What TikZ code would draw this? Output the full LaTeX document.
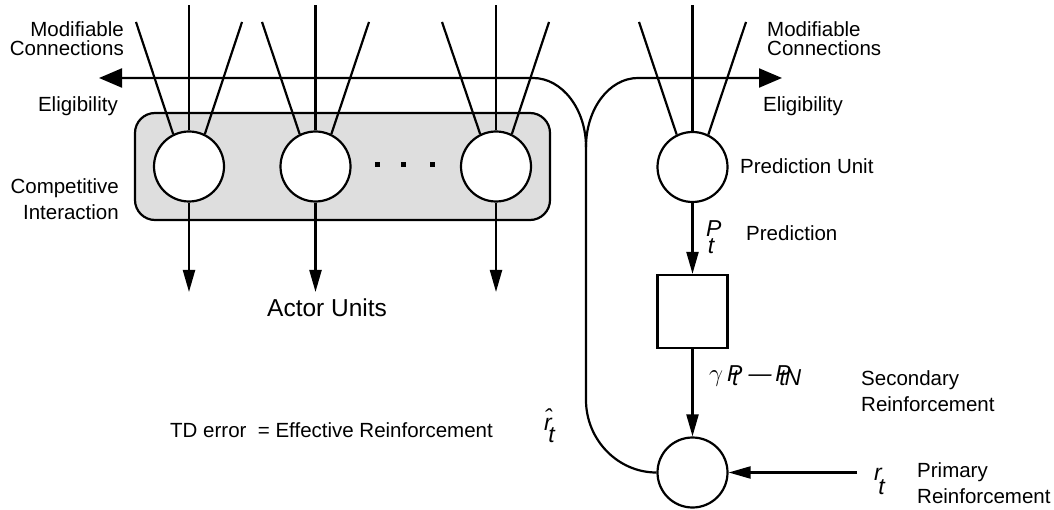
\documentclass[tikz,border=0pt]{standalone}
\usepackage{fontspec}
\setmainfont{Liberation Sans}
\usetikzlibrary{arrows.meta}
\tikzset{unit/.style={draw,circle,fill=white,line width=2.2pt,minimum size=70pt,inner sep=0pt},
         delay/.style={draw,fill=white,line width=2.2pt,minimum width=70pt,minimum height=73pt,inner sep=0pt},
         wire/.style={line width=2.2pt},
         sig/.style={wire,-{Triangle[length=22pt,width=12pt]}},
         elig/.style={wire,-{Triangle[length=23pt,width=19pt]}},
         lbl/.style={inner sep=0pt,font=\fontsize{20.5}{26}\selectfont},
         sym/.style={inner sep=0pt,font=\fontsize{23}{26}\selectfont\itshape},
        }

\begin{document}
\begin{tikzpicture}[x=1pt,y=-1pt]
        \useasboundingbox(0,0)rectangle(1054,510);
        \draw[wire,fill=black!13,rounded corners=20pt](135,113)rectangle(550,220);

        \node[unit](a1)at(189,166.5){};
        \node[unit](a2)at(315.5,166.5){};
        \node[unit](a3)at(496,166.5){};
        \node[unit](pu)at(692.5,167){};
        \node[delay](dbox)at(692.5,311.5){};
        \node[unit](td)at(692.5,472.5){};

        \coordinate(a1in)at(189,5);   \coordinate(a1l)at(136,22); \coordinate(a1r)at(242,22);
        \coordinate(a2in)at(315.5,5); \coordinate(a2l)at(262,22); \coordinate(a2r)at(369,22);
        \coordinate(a3in)at(496,5);   \coordinate(a3l)at(442,22); \coordinate(a3r)at(549,22);
        \coordinate(puin)at(692.5,5); \coordinate(pul)at(639,22); \coordinate(pur)at(746,22);
        \coordinate(a1out)at(189,292);
        \coordinate(a2out)at(315.5,292);
        \coordinate(a3out)at(496,292);
        \coordinate(split)at(586,147);
        \coordinate(ell)at(99,78);
        \coordinate(elr)at(782,78);
        \coordinate(rin)at(857,472.5);

        % modifiable connections
        \draw[wire](a1.north)--(a1in);
        \draw[wire](a1.116)--(a1l);
        \draw[wire](a1.64)--(a1r);
        \draw[wire](a2.north)--(a2in);
        \draw[wire](a2.116)--(a2l);
        \draw[wire](a2.64)--(a2r);
        \draw[wire](a3.north)--(a3in);
        \draw[wire](a3.116)--(a3l);
        \draw[wire](a3.64)--(a3r);
        \draw[wire](pu.north)--(puin);
        \draw[wire](pu.116)--(pul);
        \draw[wire](pu.64)--(pur);

        % outputs
        \draw[sig](a1.south)--(a1out);
        \draw[sig](a2.south)--(a2out);
        \draw[sig](a3.south)--(a3out);
        \draw[sig](pu.south)--(dbox.north);
        \draw[sig](dbox.south)--(td.north);
        \draw[sig](rin)--(td.east);

        % TD error fed back as eligibility
        \draw[wire](td.west)..controls(618,472.5)and(586,440)..(586,400)--(split);
        \draw[elig](split)..controls(586,109)and(562,78)..(533,78)--(ell);
        \draw[elig](split)..controls(586,109)and(609,78)..(638,78)--(elr);

        \fill(374.5,162.5)rectangle++(5,5);
        \fill(400.5,162.5)rectangle++(5,5);
        \fill(429.5,162.5)rectangle++(5,5);

        \node[lbl,align=right,anchor=base east,font=\fontsize{20.5}{19}\selectfont](modl)at(124,56){Modifiable\\Connections};
        \node[lbl,align=left,anchor=base west,font=\fontsize{20.5}{19}\selectfont](modr)at(767,56){Modifiable\\Connections};
        \node[lbl,anchor=base east](elil)at(118,112){Eligibility};
        \node[lbl,anchor=base west](elir)at(763,112){Eligibility};
        \node[lbl,align=right,anchor=base east](comp)at(119,220){Competitive\\Interaction};
        \node[lbl,anchor=base west](pul)at(740,174){Prediction Unit};
        \node[lbl,anchor=base west,font=\fontsize{24.5}{30}\selectfont](actl)at(267,317){Actor Units};
        \node[lbl,anchor=base west](predl)at(746,241){Prediction};
        \node[sym,anchor=base west](pt)at(706,237){P\kern-.6em\raisebox{-.7em}{t}};
        \node[sym,anchor=base west](diff)at(709,381){$\gamma$\,P\kern-.45em\raisebox{-.2em}{t}\ \,—\,P\kern-.5em\raisebox{-.2em}{t\kern-.05em N}};
        \node[lbl,align=left,anchor=base west](secl)at(861,411){Secondary\\Reinforcement};
        \node[sym,anchor=base west](rt)at(874,480){r\kern-.15em\raisebox{-.65em}{t}};
        \node[lbl,align=left,anchor=base west](priml)at(917,503){Primary\\Reinforcement};
        \node[sym,anchor=base west](rhat)at(544,430){\^r\kern-.15em\raisebox{-.55em}{t}};
        \node[lbl,anchor=base west](tdl)at(170,437){TD error \ = Effective Reinforcement};
\end{tikzpicture}
\end{document}
